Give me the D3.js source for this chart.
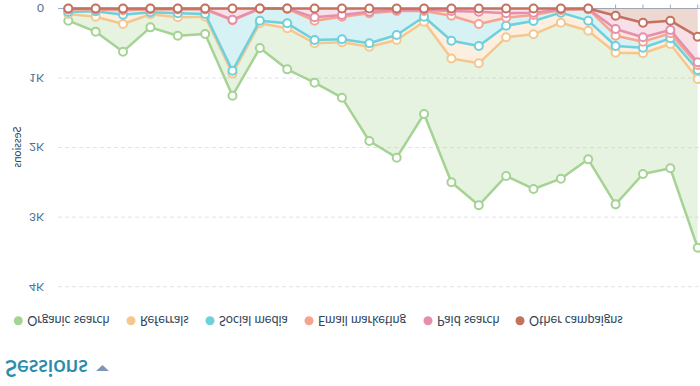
<!DOCTYPE html>
<html><head><meta charset="utf-8">
<script src="https://cdn.jsdelivr.net/npm/d3@7/dist/d3.min.js"></script>
<style>
html,body{margin:0;padding:0;background:#fff;overflow:hidden;}
svg{display:block;font-family:Lato,"Open Sans",sans-serif;}
</style></head>
<body>
<svg id="chart" width="700" height="386"></svg>
<script>
const seriesNames = ["Organic search","Referrals","Social media","Email marketing","Paid search","Other campaigns"];
const seriesColors = ["#a5d394","#f5c78e","#6dd0dc","#f5a58f","#e68fac","#c2725f"];
const organic   = [96,215,398,188,264,249,319,355,590,567,796,1356,1692,1327,1779,2042,1994,2224,2243,1850,2181,1736,1788,2426];
const referrals = [29,78,133,28,58,39,41,38,72,47,43,49,72,72,257,249,167,191,144,144,96,80,81,130];
const social    = [35,25,65,40,54,64,724,170,208,278,325,431,345,82,359,316,115,87,38,165,148,87,72,72];
const email     = [10,10,15,10,10,10,10,5,5,48,25,23,14,14,68,177,63,33,7,5,96,63,48,38];
const paid      = [5,5,10,5,5,5,160,0,0,127,93,46,22,22,36,46,69,60,15,5,191,210,134,369];
const other     = [0,0,0,0,0,0,0,0,0,0,0,0,0,0,0,0,0,0,0,0,104,204,175,405];
const yTicks = [0,1000,2000,3000,4000];
const yTickLabels = ["0","1K","2K","3K","4K"];

const values = [organic, referrals, social, email, paid, other];
const n = organic.length;
const rows = d3.range(n).map(i => {
  const r = {i};
  seriesNames.forEach((s,k) => r[s] = values[k][i]);
  return r;
});
const stackKeys = seriesNames.slice().reverse();
const stacked = d3.stack().keys(stackKeys)(rows);

const svg = d3.select("#chart");
const root = svg.append("g").attr("transform","translate(0,386) scale(1,-1)");

const x = d3.scaleLinear().domain([0, n-1]).range([68.3, 697.7]);
const y = d3.scaleLinear().domain([0, 4000]).range([377.5, 99.3]);

root.append("g").selectAll("line").data(yTicks.slice(1)).join("line")
  .attr("x1",58).attr("x2",700).attr("y1",d=>y(d)).attr("y2",d=>y(d))
  .attr("stroke","#dfe3eb").attr("stroke-width",1).attr("stroke-dasharray","4,3");

root.append("g").selectAll("text").data(yTicks).join("text")
  .attr("x",44).attr("y",d=>y(d)).attr("dy","0.35em")
  .attr("text-anchor","end").attr("font-size",12).attr("fill","#516f90")
  .text((d,i)=>yTickLabels[i]);

root.append("text").attr("transform","translate(21,239) rotate(-90)")
  .attr("text-anchor","middle").attr("font-size",11).attr("fill","#33475b")
  .text("Sessions");

root.append("line").attr("x1",58).attr("x2",700).attr("y1",y(0)).attr("y2",y(0))
  .attr("stroke","#99acc2").attr("stroke-width",1);
root.append("g").selectAll("line").data(d3.range(n)).join("line")
  .attr("x1",d=>x(d)).attr("x2",d=>x(d)).attr("y1",y(0)).attr("y2",y(0)+4)
  .attr("stroke","#99acc2").attr("stroke-width",1);

const area = d3.area().x((d,i)=>x(i)).y0(d=>y(d[0])).y1(d=>y(d[1]));
const line = d3.line().x((d,i)=>x(i)).y(d=>y(d[1]));

seriesNames.forEach((name,k) => {
  const layer = stacked.find(s => s.key === name);
  const g = root.append("g");
  g.append("path").attr("d", area(layer)).attr("fill", seriesColors[k]).attr("fill-opacity",0.28);
  g.append("path").attr("d", line(layer)).attr("fill","none").attr("stroke",seriesColors[k]).attr("stroke-width",2.5).attr("stroke-linejoin","round");
  g.selectAll("circle").data(layer).join("circle")
    .attr("cx",(d,i)=>x(i)).attr("cy",d=>y(d[1])).attr("r",4)
    .attr("fill","#fff").attr("stroke",seriesColors[k]).attr("stroke-width",2);
});

const legendX = [18.3,131,210,309,428,520];
const lg = root.append("g");
seriesNames.forEach((name,k) => {
  lg.append("circle").attr("cx",legendX[k]).attr("cy",65.3).attr("r",4.5).attr("fill",seriesColors[k]);
  lg.append("text").attr("x",legendX[k]+9).attr("y",65.3).attr("dy","0.35em")
    .attr("font-size",12.6).attr("fill","#33475b").text(name);
});

root.append("text").attr("x",5).attr("y",18.5).attr("dy","0.35em")
  .attr("font-size",22).attr("font-weight",600).attr("fill","#2b8dab").text("Sessions");
root.append("path").attr("d","M96,15 L109,15 L102.5,21 Z").attr("fill","#7c98b6");
</script>
</body></html>
